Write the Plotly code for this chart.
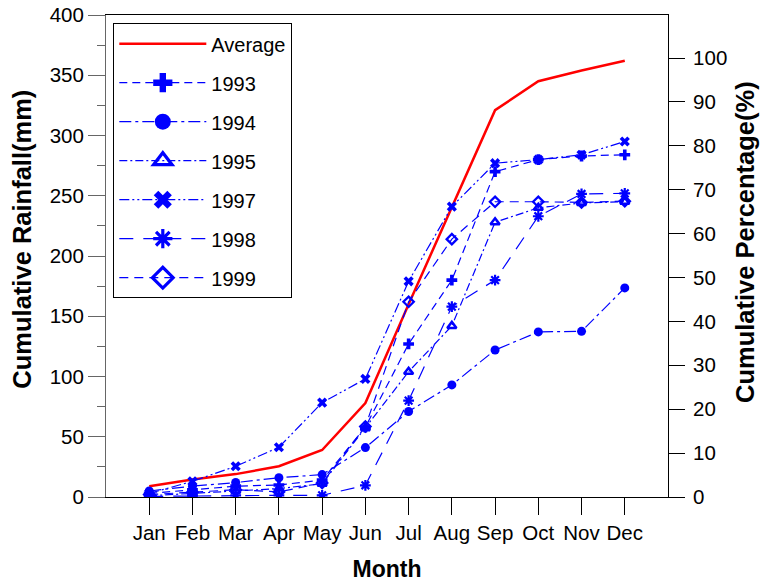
import plotly.graph_objects as go

months = ["Jan", "Feb", "Mar", "Apr", "May", "Jun", "Jul", "Aug", "Sep", "Oct", "Nov", "Dec"]
average = [9, 14.5, 19, 25.5, 39, 78, 160, 241, 321, 345, 354, 362]
y1993 = [3, 6, 9, 10, 14, 58, 127, 180, 270, 280, 283, 284]
y1994 = [5, 9, 12, 16, 18.6, 41, 71, 93, 122, 137, 137.5, 173.5]
y1995 = [1, 3, 5, 7, 11, 57, 104, 142, 228, 240, 244, 245]
y1997 = [3, 13, 25.5, 41.3, 78.3, 98, 179, 241, 277, 280, 284, 295]
y1998 = [0.5, 1, 1.4, 1.4, 1.4, 9.7, 80, 158, 180, 233, 251.5, 252]
y1999 = [2, 4, 6, 4.2, 11.7, 58.5, 162, 214, 245, 245, 244.5, 245.5]
percent_ticks = [0, 10, 20, 30, 40, 50, 60, 70, 80, 90, 100]

FONT = "Liberation Sans, Arial, sans-serif"
BLUE = "#0000FF"
RED = "#FF0000"
TICK = 20.5

xi = list(range(len(months)))

# name, values, symbol, dash, marker size, marker line width
series = [
    ("1993", y1993, "cross", "8px,5px", 9, 0),
    ("1994", y1994, "circle", "12px,4px,3px,4px", 9, 0),
    ("1995", y1995, "triangle-up-open", "8px,3px,2px,3px", 8, 2.5),
    ("1997", y1997, "x", "10px,3px,2px,3px,2px,3px", 9, 0),
    ("1998", y1998, "asterisk-open", "14px,10px", 9, 2.2),
    ("1999", y1999, "diamond-open", "9px,6px", 8, 2.3),
]

fig = go.Figure()

fig.add_trace(go.Scatter(
    x=xi, y=average, mode="lines", name="Average", legendgroup="avg",
    line=dict(color=RED, width=2.5), showlegend=True,
))

for name, vals, sym, dash, ms, lw in series:
    fig.add_trace(go.Scatter(
        x=xi, y=vals, mode="lines+markers", name=name, legendgroup=name,
        showlegend=False,
        line=dict(color=BLUE, width=1.2, dash=dash),
        marker=dict(symbol=sym, size=ms, color=BLUE,
                    line=dict(color=BLUE, width=lw)),
    ))
    # legend proxy (larger symbol in legend)
    fig.add_trace(go.Scatter(
        x=[None], y=[None], mode="lines+markers", name=name, legendgroup=name,
        showlegend=True,
        line=dict(color=BLUE, width=1.2, dash=dash),
        marker=dict(symbol=sym, size=16, color=BLUE,
                    line=dict(color=BLUE, width=(3.2 if lw else 0))),
    ))

# trace that activates the right-hand percentage axis
fig.add_trace(go.Scatter(x=[None], y=[None], yaxis="y2", showlegend=False,
                         hoverinfo="skip", mode="lines"))

title_font = dict(family=FONT, size=25.5, color="black", weight="bold")

fig.update_layout(
    width=762, height=584,
    margin=dict(l=106, r=94, t=15, b=87, autoexpand=False),
    paper_bgcolor="white", plot_bgcolor="white",
    font=dict(family=FONT, size=TICK, color="black"),
    showlegend=True,
    legend=dict(
        x=0.013, y=0.983, xanchor="left", yanchor="top",
        bgcolor="white", bordercolor="black", borderwidth=1,
        font=dict(family=FONT, size=20, color="black"),
        tracegroupgap=10, itemwidth=87, traceorder="grouped",
    ),
    xaxis=dict(
        automargin=False,
        range=[-1, 12], tickmode="array", tickvals=xi, ticktext=months,
        showgrid=False, zeroline=False,
        showline=True, linecolor="black", linewidth=1, mirror=True,
        ticks="outside", ticklen=17, tickcolor="black", tickwidth=1,
        tickfont=dict(family=FONT, size=TICK, color="black"),
        title=dict(text="Month", standoff=18,
                   font=dict(family=FONT, size=23, color="black", weight="bold")),
    ),
    yaxis=dict(
        automargin=False,
        range=[0, 400], dtick=50, tick0=0,
        showgrid=False, zeroline=False,
        showline=True, linecolor="#666666", linewidth=1,
        ticks="outside", ticklen=17, tickcolor="#666666", tickwidth=1,
        minor=dict(dtick=25, ticks="outside", ticklen=8, tickcolor="#666666", showgrid=False),
        tickfont=dict(family=FONT, size=TICK, color="black"),
    ),
    yaxis2=dict(
        automargin=False,
        overlaying="y", side="right", range=[0, 109.8],
        tickmode="array", tickvals=percent_ticks,
        showgrid=False, zeroline=False,
        showline=True, linecolor="black", linewidth=1,
        ticks="outside", ticklen=16, tickcolor="black", tickwidth=1,
        ticklabelstandoff=4,
        tickfont=dict(family=FONT, size=TICK, color="black"),
    ),
    annotations=[
        dict(text="Cumulative Rainfall(mm)", xref="paper", yref="paper",
             x=-0.1495, y=0.536, xanchor="center", yanchor="middle",
             textangle=-90, showarrow=False, font=title_font),
        dict(text="Cumulative Percentage(%)", xref="paper", yref="paper",
             x=1.137, y=0.529, xanchor="center", yanchor="middle",
             textangle=-90, showarrow=False, font=title_font),
    ],
)

fig.write_html("out.html")
